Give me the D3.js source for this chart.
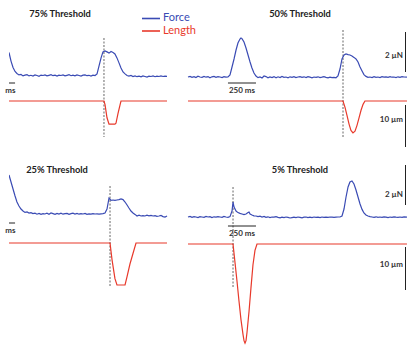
<!DOCTYPE html>
<html>
<head>
<meta charset="utf-8">
<script src="https://cdn.jsdelivr.net/npm/d3@7"></script>
<style>
  body { margin: 0; background: #fff; }
  text { font-family: Lato, "Open Sans", sans-serif; }
</style>
</head>
<body>
<div class="chart"></div>
<script>
// traces: [time ms, force uN] and [time ms, length um]
var force75 = [[0,1.15],[18,0.72],[36,0.4],[54,0.2],[71,0.1],[89,0.03],[107,0.05],[125,-0.02],[143,0.02],[161,0.04],[179,-0.02],[196,0.01],[214,-0.03],[232,0.03],[250,0.0],[268,-0.04],[286,0.02],[304,0.0],[321,0.03],[339,-0.02],[357,0.01],[375,0.04],[393,-0.01],[411,0.02],[429,-0.03],[446,0.02],[464,0.0],[482,0.03],[500,-0.02],[518,0.01],[536,0.04],[554,-0.01],[571,0.02],[589,-0.02],[607,0.03],[625,0.0],[643,-0.03],[661,0.02],[679,0.03],[696,-0.01],[714,0.01],[732,-0.03],[750,0.02],[768,0.0],[786,0.08],[804,0.48],[822,0.88],[839,1.18],[857,1.23],[875,1.18],[893,1.12],[911,1.2],[929,1.15],[946,1.08],[964,0.88],[982,0.63],[1000,0.38],[1018,0.18],[1036,0.08],[1054,0.0],[1071,-0.03],[1089,0.0],[1107,-0.05],[1125,-0.02],[1143,-0.06],[1161,-0.03],[1179,-0.07],[1196,-0.02],[1214,-0.05],[1232,-0.08],[1250,-0.03],[1268,-0.05],[1286,-0.02],[1304,-0.06],[1321,-0.03],[1339,-0.05],[1357,-0.02],[1375,-0.05],[1393,-0.03],[1411,-0.04]];
var len75 = [[0,0],[848,0],[857,-0.8],[875,-4],[893,-5.5],[946,-5.5],[955,-5.3],[973,-3],[991,-1],[1000,0],[1411,0]];

var force50 = [[0,0.0],[18,0.03],[36,-0.02],[54,0.02],[71,-0.03],[89,0.04],[107,0.0],[125,-0.02],[143,0.03],[161,-0.01],[179,0.02],[196,-0.04],[214,0.01],[232,0.03],[250,-0.02],[268,0.02],[286,0.0],[304,-0.03],[321,0.02],[339,-0.01],[357,0.0],[375,0.1],[393,0.5],[411,0.9],[429,1.35],[446,1.7],[464,1.9],[473,1.95],[482,1.92],[500,1.75],[518,1.45],[536,1.1],[554,0.75],[571,0.45],[589,0.2],[607,0.05],[625,-0.03],[643,0.0],[661,-0.05],[679,0.05],[696,0.02],[714,-0.04],[732,0.0],[750,-0.03],[768,0.02],[786,-0.04],[804,0.01],[822,-0.03],[839,0.03],[857,-0.02],[875,0.0],[893,-0.04],[911,0.01],[929,-0.02],[946,0.02],[964,-0.03],[982,0.0],[1000,0.02],[1018,-0.02],[1036,0.01],[1054,-0.03],[1071,0.02],[1089,-0.01],[1107,-0.04],[1125,0.0],[1143,-0.02],[1161,0.01],[1179,-0.03],[1196,-0.01],[1214,0.02],[1232,-0.02],[1250,-0.04],[1268,-0.01],[1286,-0.03],[1304,-0.02],[1321,-0.04],[1339,0.05],[1357,0.4],[1375,0.9],[1393,1.1],[1411,1.15],[1429,1.12],[1446,1.1],[1464,1.05],[1482,0.98],[1500,0.9],[1518,0.75],[1536,0.5],[1554,0.3],[1571,0.12],[1589,0.03],[1607,-0.02],[1625,0.0],[1643,-0.03],[1661,0.02],[1679,-0.02],[1696,0.0],[1714,-0.03],[1732,0.02],[1750,-0.01],[1768,0.01],[1786,-0.02],[1804,0.02],[1821,-0.01],[1839,0.0],[1857,-0.03],[1875,0.01],[1893,-0.02],[1911,0.02],[1929,0.0],[1955,-0.01]];
var len50 = [[0,0],[1384,0],[1402,-1.5],[1420,-3.5],[1438,-5.5],[1455,-7],[1473,-7.6],[1491,-7.2],[1509,-5.8],[1527,-4],[1545,-2.2],[1563,-0.8],[1580,0],[1955,0]];

var force25 = [[0,1.95],[18,1.6],[36,1.25],[54,0.9],[71,0.6],[89,0.4],[107,0.25],[125,0.15],[143,0.08],[161,0.1],[179,0.05],[196,0.07],[214,0.02],[232,0.04],[250,-0.01],[268,0.03],[286,-0.02],[304,0.02],[321,0.0],[339,0.04],[357,-0.01],[375,0.05],[393,0.02],[411,-0.02],[429,0.03],[446,0.0],[464,0.04],[482,-0.01],[500,0.02],[518,0.03],[536,-0.02],[554,0.02],[571,0.04],[589,0.0],[607,0.03],[625,-0.01],[643,0.02],[661,0.0],[679,0.03],[696,-0.02],[714,0.01],[732,-0.01],[750,0.02],[768,0.0],[786,0.01],[804,-0.01],[822,0.01],[839,0.02],[857,0.05],[875,0.25],[893,0.8],[911,0.68],[929,0.7],[946,0.68],[964,0.7],[982,0.72],[1000,0.75],[1018,0.72],[1036,0.6],[1054,0.45],[1071,0.3],[1089,0.15],[1107,0.05],[1125,-0.02],[1143,-0.1],[1161,-0.06],[1179,-0.1],[1196,-0.08],[1214,-0.1],[1232,-0.06],[1250,-0.09],[1268,-0.07],[1286,-0.1],[1304,-0.08],[1321,-0.12],[1339,-0.1],[1357,-0.07],[1375,-0.13],[1393,-0.15],[1411,-0.1]];
var len25 = [[0,0],[902,0],[920,-4],[946,-8.5],[964,-10],[1036,-10],[1054,-8],[1080,-5],[1107,-2.5],[1134,0],[1411,0]];

var force5 = [[0,0.0],[18,0.03],[36,-0.02],[54,0.02],[71,0.0],[89,-0.03],[107,0.02],[125,0.0],[143,-0.02],[161,0.03],[179,0.0],[196,0.02],[214,-0.03],[232,0.01],[250,-0.01],[268,0.02],[286,0.0],[304,-0.02],[321,0.03],[339,0.0],[357,-0.02],[375,0.02],[393,0.3],[402,0.75],[411,0.5],[429,0.3],[446,0.22],[464,0.18],[482,0.15],[500,0.12],[518,0.15],[536,0.22],[545,0.25],[554,0.15],[571,0.1],[589,0.06],[607,0.05],[625,0.02],[643,0.04],[661,0.0],[679,0.03],[696,-0.02],[714,0.01],[732,-0.03],[750,0.0],[768,-0.01],[786,0.02],[804,-0.02],[822,-0.04],[839,-0.01],[857,-0.03],[875,0.0],[893,-0.02],[911,-0.05],[929,-0.03],[946,-0.01],[964,-0.03],[982,0.0],[1000,-0.02],[1018,-0.04],[1036,-0.01],[1054,0.0],[1071,-0.03],[1089,-0.01],[1107,-0.03],[1125,0.0],[1143,-0.02],[1161,-0.01],[1179,-0.03],[1196,0.0],[1214,-0.02],[1232,-0.01],[1250,-0.02],[1268,0.0],[1286,-0.01],[1304,-0.02],[1321,-0.01],[1339,0.0],[1357,0.0],[1375,0.05],[1393,0.4],[1411,1.0],[1429,1.5],[1446,1.75],[1464,1.8],[1482,1.65],[1500,1.35],[1518,1.0],[1536,0.65],[1554,0.38],[1571,0.2],[1589,0.1],[1607,0.05],[1625,0.02],[1643,0.0],[1661,-0.02],[1679,0.01],[1696,-0.02],[1714,0.0],[1732,-0.02],[1750,0.01],[1768,-0.01],[1786,-0.03],[1804,0.0],[1821,-0.02],[1839,0.01],[1857,-0.01],[1875,-0.02],[1893,0.0],[1911,-0.02],[1929,0.01],[1955,-0.01]];
var len5 = [[0,0],[402,0],[420,-4.5],[438,-9],[455,-13.5],[473,-18],[491,-21.5],[500,-23],[509,-23.6],[518,-23],[527,-21],[545,-16],[562,-10.5],[580,-5],[598,-1.5],[616,0],[1955,0]];

var titles = ['75% Threshold', '50% Threshold', '25% Threshold', '5% Threshold'];
var stimTimes = [848, 1384, 902, 402];
var seriesNames = ['Force', 'Length'];
var forceBarLabel = '2 \u00b5N', lengthBarLabel = '10 \u00b5m';
var timeBarLabels = ['ms', '250 ms', 'ms', '250 ms']; // left panels are cropped in the figure

var blue = '#3a4bb4', red = '#e8392b';
var width = 407, height = 345;

// layout of each panel (pixels)
var panels = [
  {force: force75, len: len75, x0: 9,   fBase: 75.5, lBase: 101, dash: [38, 137],  tx: 60,  ty: 15,  barT: -196, barY: 83,  clip: true},
  {force: force50, len: len50, x0: 188, fBase: 77,   lBase: 101, dash: [30, 138],  tx: 300, ty: 15,  barT: 357,  barY: 83},
  {force: force25, len: len25, x0: 9,   fBase: 214,  lBase: 243, dash: [186, 287], tx: 57,  ty: 171, barT: -196, barY: 223, clip: true},
  {force: force5,  len: len5,  x0: 188, fBase: 217,  lBase: 244, dash: [187, 288], tx: 300, ty: 171, barT: 357,  barY: 226}
];
var rows = [
  {fBar: [32, 72], fLab: 56, lBar: [105, 147], lLab: 120},
  {fBar: [165, 205], fLab: 195, lBar: [247, 290], lLab: 265}
];

var svg = d3.select('.chart')
  .append('svg')
    .attr('width', width)
    .attr('height', height);

svg.append('defs').append('clipPath')
    .attr('id', 'leftclip')
  .append('rect')
    .attr('x', 9).attr('y', 0).attr('width', 170).attr('height', height);

panels.forEach(function(p, i) {
  var x = d3.scaleLinear().domain([0, 250]).range([p.x0, p.x0 + 28]);
  var yF = d3.scaleLinear().domain([0, 2]).range([p.fBase, p.fBase - 40]);
  var yL = d3.scaleLinear().domain([0, -10]).range([p.lBase, p.lBase + 42]);

  var g = svg.append('g');
  if (p.clip) g.attr('clip-path', 'url(#leftclip)');

  g.append('line')
    .attr('x1', x(stimTimes[i])).attr('x2', x(stimTimes[i]))
    .attr('y1', p.dash[0]).attr('y2', p.dash[1])
    .attr('stroke', '#666').attr('stroke-width', 1)
    .attr('stroke-dasharray', '2,1.5');

  g.append('path')
    .datum(p.force)
    .attr('fill', 'none')
    .attr('stroke', blue)
    .attr('stroke-width', 1.2)
    .attr('d', d3.line().x(d => x(d[0])).y(d => yF(d[1])));

  g.append('path')
    .datum(p.len)
    .attr('fill', 'none')
    .attr('stroke', red)
    .attr('stroke-width', 1.2)
    .attr('d', d3.line().x(d => x(d[0])).y(d => yL(d[1])));

  // 250 ms time bar
  g.append('line')
    .attr('x1', x(p.barT)).attr('x2', x(p.barT + 250))
    .attr('y1', p.barY).attr('y2', p.barY)
    .attr('stroke', '#222').attr('stroke-width', 1);
  svg.append('text')
    .attr('x', p.clip ? x(p.barT + 250) + 0.5 : x(p.barT + 125))
    .attr('y', p.barY + 8)
    .attr('text-anchor', p.clip ? 'end' : 'middle')
    .attr('dominant-baseline', 'middle')
    .attr('font-size', 8).attr('font-weight', 700).attr('fill', '#333')
    .text(timeBarLabels[i]);

  svg.append('text')
    .attr('x', p.tx).attr('y', p.ty)
    .attr('text-anchor', 'middle')
    .attr('dominant-baseline', 'middle')
    .attr('font-size', 9.3).attr('font-weight', 700).attr('fill', '#222')
    .text(titles[i]);
});

// vertical scale bars on the right
rows.forEach(function(r) {
  [[r.fBar, r.fLab, forceBarLabel], [r.lBar, r.lLab, lengthBarLabel]].forEach(function(b) {
    svg.append('line')
      .attr('x1', 405.5).attr('x2', 405.5)
      .attr('y1', b[0][0]).attr('y2', b[0][1])
      .attr('stroke', '#222').attr('stroke-width', 1);
    svg.append('text')
      .attr('x', 403).attr('y', b[1])
      .attr('text-anchor', 'end')
      .attr('dominant-baseline', 'middle')
      .attr('font-size', 8).attr('font-weight', 700).attr('fill', '#333')
      .text(b[2]);
  });
});

// legend
var legend = svg.append('g').attr('transform', 'translate(142, 18.5)');
[blue, red].forEach(function(c, i) {
  legend.append('line')
    .attr('x1', 0).attr('x2', 18)
    .attr('y1', i * 12.5).attr('y2', i * 12.5)
    .attr('stroke', c).attr('stroke-width', 1.6);
  legend.append('text')
    .attr('x', 21).attr('y', i * 12.5)
    .attr('dominant-baseline', 'middle')
    .attr('font-size', 11).attr('fill', c)
    .text(seriesNames[i]);
});
</script>
</body>
</html>
